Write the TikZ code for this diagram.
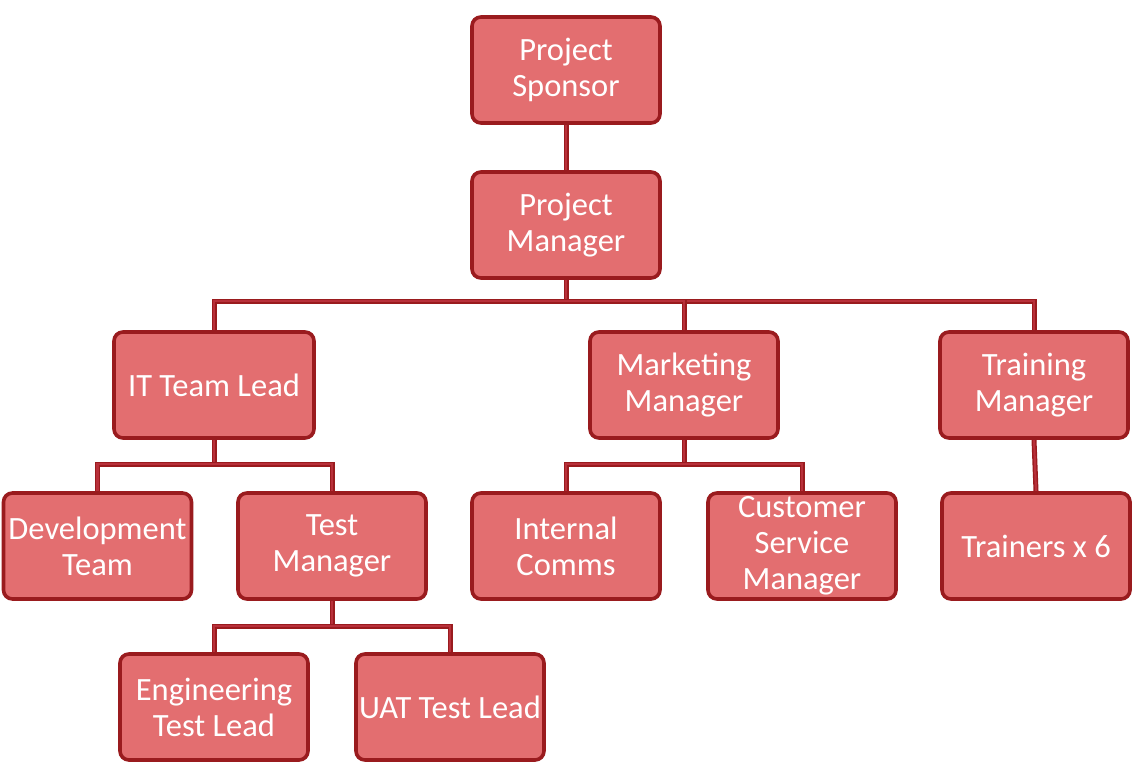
\documentclass[tikz,border=0pt]{standalone}
\usepackage{fontspec}
\setmainfont{Carlito}
\usetikzlibrary{backgrounds}
\definecolor{boxfill}{HTML}{E36E70}
\definecolor{boxedge}{HTML}{9A1B1E}
\definecolor{linein}{HTML}{B8303A}
\tikzset{
  orgbox/.style={draw=boxedge, line width=3.6pt, fill=boxfill, rounded corners=9pt,
    minimum width=188pt, minimum height=106pt, align=center, text=white,
    font=\fontsize{32.5}{36}\selectfont, inner sep=1pt},
  link/.style={draw=boxedge, line width=1.4pt, double=linein, double distance=2.2pt}
}
\begin{document}
\begin{tikzpicture}[x=1pt,y=-1pt]
\useasboundingbox (0,0) rectangle (1134,761);
\node[orgbox] (ps)  at (566,70)  {Project\\Sponsor};
\node[orgbox] (pm)  at (566,225) {Project\\Manager};
\node[orgbox, minimum width=200pt] (itl) at (214,385) {IT Team Lead};
\node[orgbox] (mm)  at (684,385) {Marketing\\Manager};
\node[orgbox] (trm) at (1034,385) {Training\\Manager};
\node[orgbox] (dev) at (97.5,546) {Development\\Team};
\node[orgbox] (tm)  at (332,546) {Test\\Manager};
\node[orgbox] (ic)  at (566,546) {Internal\\Comms};
\node[orgbox] (csm) at (802,546) {Customer\\Service\\Manager};
\node[orgbox] (trn) at (1036,546) {Trainers x 6};
\node[orgbox] (etl) at (214,707) {Engineering\\Test Lead};
\node[orgbox] (uat) at (450,707) {UAT Test Lead};
\begin{scope}[on background layer]
\fill[white] (0,0) rectangle (1134,761);
\draw[link] (ps.south) -- (pm.north);
\draw[link] (pm.south) -- (pm.south |- 0,301) coordinate (b1);
\draw[link] (itl.north) |- (b1) -| (trm.north);
\draw[link] (b1) -| (mm.north);
\draw[link] (itl.south) -- (itl.south |- 0,464) coordinate (b2);
\draw[link] (dev.north) |- (b2) -| (tm.north);
\draw[link] (mm.south) -- (mm.south |- 0,464) coordinate (b3);
\draw[link] (ic.north) |- (b3) -| (csm.north);
\draw[link] (trm.south) -- (trn.north);
\draw[link] (tm.south) -- (tm.south |- 0,626) coordinate (b4);
\draw[link] (etl.north) |- (b4) -| (uat.north);
\end{scope}
\end{tikzpicture}
\end{document}
